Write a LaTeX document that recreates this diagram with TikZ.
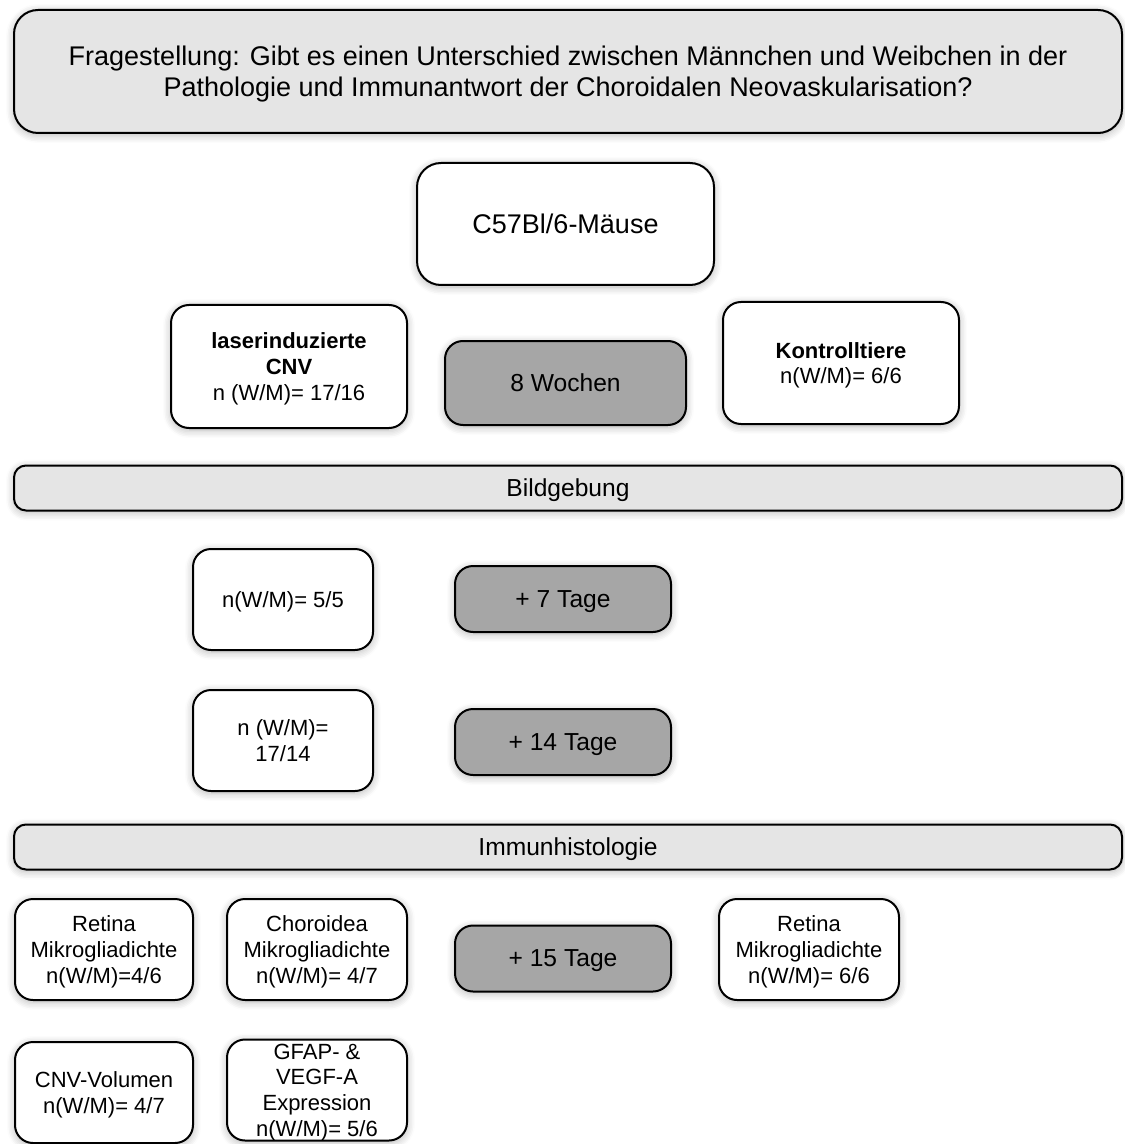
\documentclass[tikz,border=0pt]{standalone}
\usepackage{fontspec}
\setmainfont{Liberation Sans}
\usepackage{tikz}
\usetikzlibrary{shapes,positioning,shadows.blur}

\begin{document}
\begin{tikzpicture}[
  x=0.5pt, y=-0.5pt,
  box/.style={draw, line width=1pt, rounded corners=9pt, fill=white,
    align=center, inner sep=2pt, text depth=0pt, font=\fontsize{11}{12.8}\selectfont,
    blur shadow={shadow xshift=0pt, shadow yshift=-1pt, shadow blur steps=6,
      shadow blur radius=4pt, shadow opacity=30}},
  timebox/.style={box, fill=black!35, font=\fontsize{12.3}{14}\selectfont},
  bar/.style={box, fill=black!10, rounded corners=6pt,
    font=\fontsize{12.3}{14}\selectfont},
]
\useasboundingbox (0,0) rectangle (1124,1144);

% Fragestellung
\node[box, fill=black!10, rounded corners=12pt, minimum width=554pt,
  minimum height=61.5pt, font=\fontsize{13.5}{15.5}\selectfont] (frage) at (568,71.5)
  {Fragestellung: Gibt es einen Unterschied zwischen Männchen und Weibchen in der\\
   Pathologie und Immunantwort der Choroidalen Neovaskularisation?};

% Tiere
\node[box, minimum width=148.5pt, minimum height=61pt, rounded corners=12pt,
  font=\fontsize{13.5}{15}\selectfont] (maus) at (565.5,224) {C57Bl/6-Mäuse};
\node[box, minimum width=118pt, minimum height=61.5pt] (laser) at (289,366.5)
  {\textbf{laserinduzierte}\\ \textbf{CNV}\\ n (W/M)= 17/16};
\node[timebox, minimum width=120.5pt, minimum height=42pt] (wochen) at (565.5,383) {8 Wochen};
\node[box, minimum width=118pt, minimum height=61pt] (kontrolle) at (841,363)
  {\textbf{Kontrolltiere}\\ n(W/M)= 6/6};

% Bildgebung
\node[bar, minimum width=554pt, minimum height=22.5pt] (bild) at (568,488) {Bildgebung};
\node[box, minimum width=90pt, minimum height=50.5pt] (nfuenf) at (283,599.5) {n(W/M)= 5/5};
\node[timebox, minimum width=108pt, minimum height=33pt] (tagsieben) at (563,599) {+ 7 Tage};
\node[box, minimum width=90pt, minimum height=50.5pt] (nsieb) at (283,740.5) {n (W/M)=\\ 17/14};
\node[timebox, minimum width=108pt, minimum height=33pt] (tagvierz) at (563,742) {+ 14 Tage};

% Immunhistologie
\node[bar, minimum width=554pt, minimum height=22.5pt] (immun) at (568,847) {Immunhistologie};
\node[box, minimum width=89pt, minimum height=50.5pt] (retlinks) at (104,949.5)
  {Retina\\ Mikrogliadichte\\ n(W/M)=4/6};
\node[box, minimum width=90pt, minimum height=50.5pt] (choro) at (317,949.5)
  {Choroidea\\ Mikrogliadichte\\ n(W/M)= 4/7};
\node[timebox, minimum width=108pt, minimum height=33pt] (tagfuenfz) at (563,958.5) {+ 15 Tage};
\node[box, minimum width=90pt, minimum height=50.5pt] (retrechts) at (809,949.5)
  {Retina\\ Mikrogliadichte\\ n(W/M)= 6/6};
\node[box, minimum width=89pt, minimum height=50.5pt] (volumen) at (104,1092.5)
  {CNV-Volumen\\ n(W/M)= 4/7};
\node[box, minimum width=90pt, minimum height=50.5pt, inner sep=0pt] (gfap) at (317,1090)
  {GFAP- \&\\ VEGF-A\\ Expression\\ n(W/M)= 5/6};
\end{tikzpicture}
\end{document}
